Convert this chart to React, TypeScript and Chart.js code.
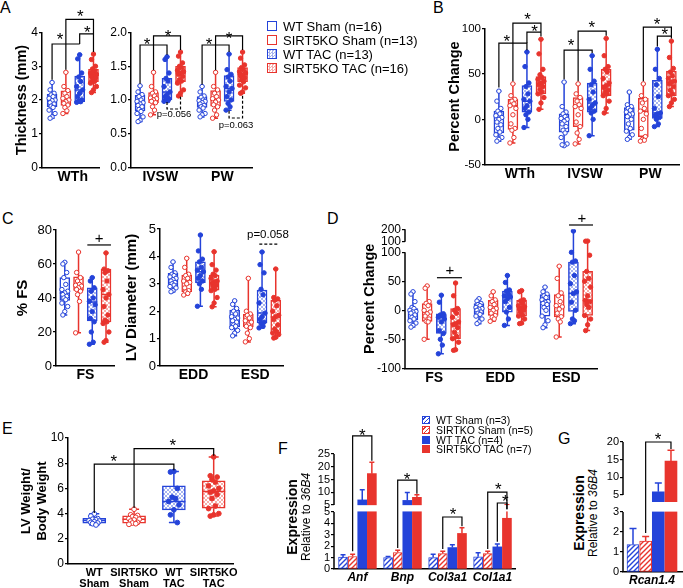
import React, { useEffect, useRef } from 'react';
import { Chart, registerables } from 'chart.js';

Chart.register(...registerables);

const FONT = '"Liberation Sans", Arial, Helvetica, sans-serif';
Chart.defaults.font.family = FONT;
Chart.defaults.color = '#000';

const BLUE = '#2443d9';
const RED = '#e8342d';

// ================= DATA =================
// Group order everywhere: WT Sham, SIRT5KO Sham, WT TAC, SIRT5KO TAC
// Box statistics: [min, Q1, median, Q3, max]

// ---- Panel A: wall thickness (mm)
const A_WTH_STATS = [
  [1.46, 1.8, 2.0, 2.17, 2.52],
  [1.6, 1.84, 2.05, 2.27, 2.82],
  [1.93, 1.95, 2.3, 2.71, 3.34],
  [2.22, 2.54, 2.74, 2.91, 3.36],
];
const A_WTH_POINTS = [
  [2.52, 2.3, 2.2, 2.15, 2.1, 2.05, 2.0, 1.98, 1.92, 1.88, 1.82, 1.78, 1.7, 1.6, 1.5, 1.46],
  [2.82, 2.4, 2.28, 2.2, 2.1, 2.05, 2.0, 1.95, 1.9, 1.85, 1.78, 1.68, 1.6],
  [3.34, 3.22, 2.8, 2.68, 2.55, 2.4, 2.3, 2.2, 2.1, 2.0, 1.97, 1.95, 1.93],
  [3.36, 3.2, 3.0, 2.92, 2.85, 2.8, 2.76, 2.74, 2.7, 2.65, 2.6, 2.55, 2.5, 2.4, 2.3, 2.22],
];
const A_IVSW_STATS = [
  [0.68, 0.84, 0.95, 1.07, 1.21],
  [0.78, 0.96, 1.02, 1.11, 1.41],
  [0.98, 1.0, 1.12, 1.32, 1.64],
  [1.06, 1.27, 1.4, 1.5, 1.71],
];
const A_IVSW_POINTS = [
  [1.21, 1.12, 1.08, 1.05, 1.0, 0.98, 0.96, 0.94, 0.92, 0.9, 0.86, 0.83, 0.8, 0.75, 0.7, 0.68],
  [1.41, 1.2, 1.12, 1.1, 1.06, 1.03, 1.02, 1.0, 0.98, 0.96, 0.9, 0.85, 0.78],
  [1.64, 1.6, 1.4, 1.32, 1.28, 1.2, 1.12, 1.08, 1.05, 1.02, 1.0, 0.99, 0.98],
  [1.71, 1.65, 1.55, 1.5, 1.48, 1.44, 1.42, 1.4, 1.38, 1.35, 1.3, 1.28, 1.25, 1.15, 1.1, 1.06],
];
const A_PW_STATS = [
  [0.75, 0.89, 0.98, 1.05, 1.2],
  [0.73, 0.91, 1.0, 1.14, 1.41],
  [0.85, 0.98, 1.17, 1.36, 1.68],
  [1.1, 1.27, 1.38, 1.48, 1.71],
];
const A_PW_POINTS = [
  [1.2, 1.12, 1.06, 1.04, 1.0, 0.99, 0.98, 0.96, 0.94, 0.92, 0.9, 0.88, 0.85, 0.8, 0.78, 0.75],
  [1.41, 1.2, 1.15, 1.1, 1.05, 1.02, 1.0, 0.97, 0.93, 0.9, 0.85, 0.78, 0.73],
  [1.68, 1.45, 1.38, 1.34, 1.28, 1.2, 1.17, 1.12, 1.05, 1.0, 0.95, 0.9, 0.85],
  [1.71, 1.62, 1.52, 1.48, 1.45, 1.42, 1.4, 1.38, 1.36, 1.33, 1.3, 1.27, 1.22, 1.18, 1.12, 1.1],
];

// ---- Panel B: percent change of thickness
const B_WTH_STATS = [
  [-24, -15, 2, 9, 31], [-26, -11, 15, 22, 39], [-9, 8, 20, 37, 74], [11, 28, 40, 47, 88],
];
const B_WTH_POINTS = [
  [31, 20, 12, 9, 6, 4, 2, 0, -3, -6, -10, -14, -17, -20, -22, -24],
  [39, 26, 22, 20, 17, 15, 12, 5, -5, -10, -12, -20, -26],
  [74, 58, 40, 36, 28, 22, 20, 15, 12, 8, 5, 0, -9],
  [88, 72, 55, 49, 46, 44, 42, 40, 38, 36, 33, 30, 28, 24, 18, 11],
];
const B_IVSW_STATS = [
  [-29, -14, 0, 6, 41], [-27, -8, 14, 24, 39], [-18, 8, 18, 40, 70], [7, 26, 37, 55, 89],
];
const B_IVSW_POINTS = [
  [41, 14, 8, 6, 3, 1, 0, -2, -5, -8, -12, -15, -20, -27, -29, -28],
  [39, 28, 24, 20, 16, 14, 12, 5, -3, -8, -15, -22, -27],
  [70, 55, 42, 38, 30, 22, 18, 15, 12, 9, 7, 0, -18],
  [89, 70, 58, 55, 52, 45, 40, 37, 35, 32, 30, 28, 26, 20, 12, 7],
];
const B_PW_STATS = [
  [-22, -12, 5, 13, 30], [-24, -19, 9, 23, 39], [-8, 1, 7, 43, 77], [14, 26, 41, 53, 86],
];
const B_PW_POINTS = [
  [30, 16, 14, 12, 10, 8, 6, 5, 3, 0, -5, -10, -13, -17, -20, -22],
  [39, 26, 22, 18, 12, 9, 6, 0, -10, -19, -22, -23, -24],
  [77, 55, 45, 38, 25, 12, 7, 6, 4, 2, 0, -5, -8],
  [86, 68, 56, 52, 48, 45, 42, 41, 39, 36, 32, 28, 26, 22, 18, 14],
];

// ---- Panel C: %FS and LV diameters (mm)
const C_FS_STATS = [
  [30, 38.6, 43, 52, 61], [19.5, 44.5, 47.5, 52.4, 67], [12.8, 26.5, 37.7, 46, 52], [14, 26, 42, 57, 66.5],
];
const C_FS_POINTS = [
  [61, 60, 55, 52, 48, 45, 44, 43, 42, 41, 40, 39, 37, 35, 32, 30],
  [67, 55, 52, 50, 48, 47.5, 47, 46, 45, 44, 42, 38, 19.5],
  [52, 50, 46, 44, 40, 38, 36, 32, 28, 26, 20, 14, 12.8],
  [66.5, 57, 56, 55, 50, 45, 42, 40, 35, 30, 27, 26, 25, 20, 15, 14],
];
const C_EDD_STATS = [
  [2.71, 2.89, 3.15, 3.38, 3.8], [2.59, 2.71, 3.1, 3.32, 3.93], [2.18, 3.04, 3.44, 3.8, 4.78], [2.16, 2.77, 3.07, 3.32, 4.17],
];
const C_EDD_POINTS = [
  [3.8, 3.6, 3.4, 3.35, 3.3, 3.25, 3.2, 3.15, 3.1, 3.05, 3.0, 2.95, 2.9, 2.85, 2.75, 2.71],
  [3.93, 3.6, 3.35, 3.3, 3.2, 3.1, 3.05, 3.0, 2.85, 2.75, 2.7, 2.65, 2.59],
  [4.78, 4.2, 3.9, 3.8, 3.6, 3.5, 3.44, 3.3, 3.2, 3.1, 3.0, 2.8, 2.18],
  [4.17, 3.7, 3.5, 3.35, 3.3, 3.2, 3.1, 3.07, 3.0, 2.95, 2.9, 2.8, 2.75, 2.5, 2.3, 2.16],
];
const C_ESD_STATS = [
  [1.1, 1.43, 1.73, 2.04, 2.38], [0.88, 1.43, 1.65, 1.89, 3.2], [1.39, 1.57, 1.93, 2.77, 4.16], [1.02, 1.2, 1.79, 2.41, 3.54],
];
const C_ESD_POINTS = [
  [2.38, 2.25, 2.1, 2.0, 1.9, 1.8, 1.75, 1.7, 1.65, 1.6, 1.5, 1.45, 1.4, 1.3, 1.2, 1.1],
  [3.2, 2.0, 1.9, 1.85, 1.75, 1.65, 1.6, 1.5, 1.45, 1.4, 1.2, 1.0, 0.88],
  [4.16, 3.7, 3.4, 2.8, 2.6, 2.3, 1.93, 1.8, 1.7, 1.6, 1.55, 1.45, 1.39],
  [3.54, 2.5, 2.45, 2.4, 2.2, 2.0, 1.85, 1.8, 1.7, 1.5, 1.35, 1.25, 1.2, 1.15, 1.05, 1.02],
];

// ---- Panel D: percent change of FS / EDD / ESD
const D_FS_STATS = [
  [-29, -16, -3, 3, 32], [-50, -19, -3, 11.5, 42], [-75, -40, -10, -6, 26], [-69, -49, -23, 3, 47],
];
const D_FS_POINTS = [
  [32, 28, 15, 5, 3, 0, -2, -3, -5, -8, -12, -15, -18, -22, -26, -29],
  [42, 38, 15, 12, 8, 0, -3, -6, -10, -15, -19, -20, -50],
  [26, 14, -6, -8, -10, -12, -15, -20, -35, -40, -50, -60, -75],
  [47, 25, 3, 0, -5, -12, -20, -23, -25, -30, -38, -45, -49, -55, -68, -69],
];
const D_EDD_STATS = [
  [-23, -7, 3, 11.5, 20], [-19, -9, 3, 17, 32], [-26, -3, 23, 33, 60], [-23, -10, 6, 17, 34],
];
const D_EDD_POINTS = [
  [20, 16, 12, 10, 8, 5, 3, 2, 0, -3, -5, -7, -10, -15, -20, -23],
  [32, 25, 18, 15, 10, 5, 3, 0, -5, -9, -12, -15, -19],
  [60, 48, 35, 33, 28, 25, 23, 20, 15, 5, -3, -15, -26],
  [34, 32, 18, 16, 12, 8, 6, 4, 2, 0, -3, -8, -10, -15, -22, -23],
];
const D_ESD_STATS = [
  [-30, -10, 14, 27, 40], [-46, -11.5, 6, 27, 76], [-23, -2, 29, 83, 186], [-35, -9, 17, 67, 105],
];
const D_ESD_POINTS = [
  [40, 32, 28, 25, 22, 18, 15, 14, 12, 10, 5, 0, -10, -18, -25, -30],
  [76, 55, 30, 25, 15, 8, 6, 2, -5, -11, -15, -20, -46],
  [186, 100, 85, 83, 60, 46, 32, 29, 14, 0, -15, -18, -23],
  [105, 104, 95, 67, 55, 50, 40, 25, 17, 15, 10, 5, -9, -15, -25, -35],
];
const D_TICKS_LOWER = [-100, -50, 0, 50, 100];
const D_TICKS_UPPER = [100, 200];

// ---- Panel E: LV weight / body weight
const E_STATS = [
  [3.1, 3.24, 3.45, 3.63, 3.98], [3.15, 3.24, 3.55, 3.82, 4.35], [3.29, 4.3, 4.96, 6.2, 7.35], [3.8, 4.43, 5.76, 6.6, 8.5],
];
const E_POINTS = [
  [3.98, 3.8, 3.6, 3.55, 3.5, 3.45, 3.4, 3.35, 3.3, 3.25, 3.2, 3.1],
  [4.35, 3.9, 3.85, 3.75, 3.7, 3.6, 3.55, 3.5, 3.4, 3.3, 3.25, 3.2, 3.15],
  [7.35, 7.3, 6.0, 5.3, 5.2, 4.96, 4.7, 4.3, 3.9, 3.29],
  [8.5, 7.0, 6.9, 6.7, 6.5, 6.2, 6.0, 5.8, 5.7, 5.5, 5.2, 4.6, 4.4, 4.0, 3.9, 3.8],
];
const E_LABELS = [['WT', 'Sham'], ['SIRT5KO', 'Sham'], ['WT', 'TAC'], ['SIRT5KO', 'TAC']];

// ---- Panel F: gene expression relative to 36B4 (mean, SEM)
const F_GENES = ['Anf', 'Bnp', 'Col3a1', 'Col1a1'];
const F_WT_SHAM = [1.05, 1.0, 1.0, 1.07];
const F_KO_SHAM = [1.1, 1.45, 1.36, 1.36];
const F_WT_TAC = [7.0, 6.8, 1.88, 1.94];
const F_KO_TAC = [17.3, 8.0, 3.12, 4.45];
const F_WT_SHAM_SEM = [0.2, 0.1, 0.3, 0.35];
const F_KO_SHAM_SEM = [0.2, 0.2, 0.2, 0.2];
const F_WT_TAC_SEM = [4.0, 3.1, 0.25, 0.25];
const F_KO_TAC_SEM = [4.5, 1.0, 0.5, 0.65];
const F_TICKS_LOWER = [0, 1, 2, 3, 4, 5];
const F_TICKS_UPPER = [5, 10, 15, 20, 25];

// ---- Panel G: Rcan1.4
const G_GENE = ['Rcan1.4'];
const G_MEAN = [1.37, 1.55, 5.9, 14.6];
const G_SEM = [0.8, 0.22, 2.5, 3.1];
const G_TICKS_LOWER = [0, 1, 2, 3];
const G_TICKS_UPPER = [5, 10, 15, 20];

const LEGEND_A = ['WT Sham (n=16)', 'SIRT5KO Sham (n=13)', 'WT TAC (n=13)', 'SIRT5KO TAC (n=16)'];
const LEGEND_F = ['WT Sham (n=3)', 'SIRTKO Sham (n=5)', 'WT TAC (n=4)', 'SIRT5KO TAC (n=7)'];

// ================= HELPERS =================
const KINDS = (n: number) => Array.from({ length: n * 4 }, (_, i) => i % 4);
const COLS = [BLUE, RED, BLUE, RED];

function breakMap(lowTop: number, upBase: number, gap: number, k: number) {
  const up = (v: number) => lowTop + gap + (v - upBase) * k;
  const tf = (v: number) => (v <= lowTop ? v : up(v));
  return { up, tf };
}
const D_MAP = breakMap(100, 100, 18.3, 0.2138);
const F_MAP = breakMap(5, 5, 0.614, 0.2237);
const G_MAP = breakMap(3, 5, 0.85, 0.1767);

function checker(ctx: CanvasRenderingContext2D, color: string) {
  const c = document.createElement('canvas');
  c.width = 4; c.height = 4;
  const g = c.getContext('2d')!;
  g.fillStyle = '#ffffff'; g.fillRect(0, 0, 4, 4);
  g.globalAlpha = 0.4; g.fillStyle = color;
  g.fillRect(0, 0, 2, 2); g.fillRect(2, 2, 2, 2);
  return ctx.createPattern(c, 'repeat');
}
function hatch(ctx: CanvasRenderingContext2D, color: string) {
  const s = 5;
  const c = document.createElement('canvas');
  c.width = s; c.height = s;
  const g = c.getContext('2d')!;
  g.fillStyle = '#ffffff'; g.fillRect(0, 0, s, s);
  g.strokeStyle = color; g.lineWidth = 1.4;
  g.beginPath();
  g.moveTo(0, s); g.lineTo(s, 0);
  g.moveTo(-1, 1); g.lineTo(1, -1);
  g.moveTo(s - 1, s + 1); g.lineTo(s + 1, s - 1);
  g.stroke();
  return ctx.createPattern(c, 'repeat');
}

function drawAnnotations(chart: any, p: any) {
  const xs = chart.scales.x, ys = chart.scales.y, c = chart.ctx;
  c.save();
  c.strokeStyle = '#000';
  c.lineWidth = 1.2;
  (p.brackets || []).forEach((b: any) => {
    const x1 = xs.getPixelForValue(b.x1), x2 = xs.getPixelForValue(b.x2), y = ys.getPixelForValue(b.y);
    c.setLineDash(b.dash ? [3, 2] : []);
    c.beginPath();
    c.moveTo(x1, ys.getPixelForValue(b.l1));
    c.lineTo(x1, y);
    c.lineTo(x2, y);
    c.lineTo(x2, ys.getPixelForValue(b.l2));
    c.stroke();
  });
  c.setLineDash([]);
  (p.marks || []).forEach((m: any) => {
    const size = m.size || 17;
    c.font = `${size}px ${FONT}`;
    c.fillStyle = '#000';
    c.textAlign = 'center';
    c.textBaseline = 'middle';
    const dy = m.t === '*' ? size * 0.22 : 0;
    c.fillText(m.t, xs.getPixelForValue(m.x), ys.getPixelForValue(m.y) + dy);
  });
  if (p.segs) {
    c.lineWidth = 1.5;
    c.strokeStyle = '#000';
    const x = chart.chartArea.left;
    p.segs.forEach((s: number[]) => {
      c.beginPath();
      c.moveTo(x, ys.getPixelForValue(s[0]));
      c.lineTo(x, ys.getPixelForValue(s[1]));
      c.stroke();
    });
  }
  c.restore();
}

function scalesFor(p: any, ml: number, mb: number) {
  return {
    x: {
      type: 'linear', min: p.xMin, max: p.xMax, offset: false,
      grid: { display: false, drawTicks: false, offset: false },
      border: { display: true, color: '#000', width: 1.5 },
      afterBuildTicks: (s: any) => { s.ticks = p.centers.map((v: number) => ({ value: v })); },
      afterFit: (s: any) => { s.height = mb; },
      ticks: {
        autoSkip: false, maxRotation: 0, minRotation: 0, padding: p.xPad ?? 1, color: '#000',
        font: p.xFont,
        callback: (v: number) => p.groupLabels[p.centers.indexOf(v)],
      },
    },
    y: {
      type: 'linear', min: p.yMin, max: p.yMax,
      afterBuildTicks: p.yTicks ? (s: any) => { s.ticks = p.yTicks.map((v: number) => ({ value: v })); } : undefined,
      afterFit: (s: any) => { s.width = ml; },
      ticks: {
        stepSize: p.yStep, color: '#000', padding: 1, autoSkip: false,
        font: { family: FONT, size: p.tickSize },
        callback: (v: number) => (p.yLabel ? p.yLabel(v) : String(v)),
      },
      grid: { display: true, drawOnChartArea: false, drawTicks: true, tickLength: 3, color: '#000', lineWidth: 1.2 },
      border: { display: !p.segs, color: '#000', width: 1.5 },
      title: p.yTitle
        ? { display: true, text: p.yTitle, color: '#000', padding: 0, font: { family: FONT, size: p.yTitleSize, weight: 'bold' } }
        : { display: false },
    },
  };
}

function margins(p: any) {
  const [cl, ct, cw, ch] = p.cv;
  const [pl, pt, pr, pb] = p.plot;
  return { ml: pl - cl, mt: pt - ct, mr: cl + cw - pr, mb: ct + ch - pb };
}

function makeBoxChart(p: any) {
  return (ctx: CanvasRenderingContext2D) => {
    const tf = p.tf || ((v: number) => v);
    const fills = ['#ffffff', '#ffffff', checker(ctx, BLUE), checker(ctx, RED)];
    const { ml, mt, mr, mb } = margins(p);
    const pxPer = (p.plot[2] - p.plot[0]) / (p.xMax - p.xMin);
    const jit = [0, -1, 1, -0.5, 0.5, -1.5, 1.5];
    const datasets: any[] = [
      {
        type: 'bar', order: 2,
        data: p.stats.map((s: number[], i: number) => ({ x: p.slots[i], y: [tf(s[1]), tf(s[3])] })),
        backgroundColor: p.kinds.map((k: number) => fills[k]),
        borderColor: p.kinds.map((k: number) => COLS[k]),
        borderWidth: 1.5, borderSkipped: false, barThickness: p.boxW,
      },
    ];
    p.pts.forEach((arr: number[], i: number) => {
      const k = p.kinds[i];
      datasets.push({
        type: 'scatter', order: 1,
        data: arr.map((v, j) => ({ x: p.slots[i] + (jit[j % jit.length] * p.jit) / pxPer, y: tf(v) })),
        pointRadius: p.ptR, pointHoverRadius: p.ptR, pointBorderWidth: 1,
        pointBackgroundColor: k < 2 ? '#ffffff' : COLS[k], pointBorderColor: COLS[k],
      });
    });
    return {
      type: 'bar',
      data: { datasets },
      options: {
        animation: false, responsive: false, events: [],
        layout: { padding: { left: 0, top: mt, right: mr, bottom: 0 } },
        plugins: { legend: { display: false }, tooltip: { enabled: false } },
        scales: scalesFor(p, ml, mb),
      },
      plugins: [
        {
          id: 'boxdeco',
          afterDatasetDraw(chart: any, args: any) {
            if (args.meta.type !== 'bar') return;
            const xs = chart.scales.x, ys = chart.scales.y, c = chart.ctx;
            c.save();
            c.lineWidth = 1.5;
            p.stats.forEach((s: number[], i: number) => {
              const x = xs.getPixelForValue(p.slots[i]);
              const Y = s.map((v) => ys.getPixelForValue(tf(v)));
              c.strokeStyle = COLS[p.kinds[i]];
              c.beginPath();
              c.moveTo(x, Y[3]); c.lineTo(x, Y[4]);
              c.moveTo(x, Y[1]); c.lineTo(x, Y[0]);
              c.moveTo(x - p.capW, Y[4]); c.lineTo(x + p.capW, Y[4]);
              c.moveTo(x - p.capW, Y[0]); c.lineTo(x + p.capW, Y[0]);
              c.moveTo(x - p.boxW / 2, Y[2]); c.lineTo(x + p.boxW / 2, Y[2]);
              c.stroke();
            });
            c.restore();
          },
          afterDraw(chart: any) { drawAnnotations(chart, p); },
        },
      ],
    };
  };
}

function makeBarChart(p: any) {
  return (ctx: CanvasRenderingContext2D) => {
    const fills = [hatch(ctx, BLUE), hatch(ctx, RED), BLUE, RED];
    const { ml, mt, mr, mb } = margins(p);
    return {
      type: 'bar',
      data: {
        datasets: [
          {
            data: p.means.map((m: number, i: number) => ({ x: p.slots[i], y: p.tf(m) })),
            backgroundColor: p.kinds.map((k: number) => fills[k]),
            borderColor: p.kinds.map((k: number) => COLS[k]),
            borderWidth: p.kinds.map((k: number) => (k < 2 ? 1 : 0)),
            borderSkipped: false, barThickness: p.barW,
          },
        ],
      },
      options: {
        animation: false, responsive: false, events: [],
        layout: { padding: { left: 0, top: mt, right: mr, bottom: 0 } },
        plugins: { legend: { display: false }, tooltip: { enabled: false } },
        scales: scalesFor(p, ml, mb),
      },
      plugins: [
        {
          id: 'errdeco',
          afterDatasetsDraw(chart: any) {
            const xs = chart.scales.x, ys = chart.scales.y, c = chart.ctx;
            const a = chart.chartArea;
            c.save();
            c.lineWidth = 1.5;
            p.means.forEach((m: number, i: number) => {
              const x = xs.getPixelForValue(p.slots[i]);
              const y0 = ys.getPixelForValue(p.tf(m));
              const y1 = ys.getPixelForValue(p.tf(m + p.sems[i]));
              c.strokeStyle = COLS[p.kinds[i]];
              c.beginPath();
              c.moveTo(x, y0); c.lineTo(x, y1);
              c.moveTo(x - p.capW, y1); c.lineTo(x + p.capW, y1);
              c.stroke();
            });
            const b0 = ys.getPixelForValue(p.band[0]), b1 = ys.getPixelForValue(p.band[1]);
            c.fillStyle = '#ffffff';
            c.fillRect(a.left + 1, b1, a.right - a.left, b0 - b1);
            c.restore();
          },
          afterDraw(chart: any) { drawAnnotations(chart, p); },
        },
      ],
    };
  };
}

// ================= PANEL CONFIGS =================
const XFONT = { family: FONT, size: 14, weight: 'bold' };
const f1 = (v: number) => v.toFixed(1);

const CFG_A1 = {
  cv: [13, 4, 92, 190], plot: [42, 32.5, 99, 167.5],
  yMin: 0, yMax: 4, yStep: 1, tickSize: 12, yTitle: 'Thickness (mm)', yTitleSize: 14.5,
  xMin: -0.73, xMax: 3.4, slots: [0, 1, 2, 3], centers: [1.5], groupLabels: ['WTh'], xFont: XFONT,
  stats: A_WTH_STATS, pts: A_WTH_POINTS, kinds: KINDS(1), boxW: 10, capW: 2.5, ptR: 2.2, jit: 2,
  brackets: [
    { x1: 0, x2: 2, y: 3.66, l1: 2.6, l2: 3.66 },
    { x1: 2, x2: 3, y: 3.96, l1: 3.66, l2: 3.96 },
    { x1: 1, x2: 3, y: 4.39, l1: 2.9, l2: 3.42 },
  ],
  marks: [
    { x: 0.58, y: 3.87, t: '*' }, { x: 2.56, y: 4.1, t: '*' }, { x: 2.05, y: 4.55, t: '*' },
  ],
};

const CFG_A2 = {
  cv: [103, 4, 155, 190], plot: [131, 32.5, 252, 167.5],
  yMin: 0, yMax: 2, yStep: 0.5, tickSize: 12, yLabel: f1,
  xMin: -0.67, xMax: 8.3, slots: [0, 1, 2, 3, 4.6, 5.6, 6.6, 7.6], centers: [1.5, 6.1], groupLabels: ['IVSW', 'PW'], xFont: XFONT,
  stats: [...A_IVSW_STATS, ...A_PW_STATS], pts: [...A_IVSW_POINTS, ...A_PW_POINTS], kinds: KINDS(2),
  boxW: 10, capW: 2.5, ptR: 2.2, jit: 2,
  brackets: [
    { x1: 0, x2: 2, y: 1.815, l1: 1.24, l2: 1.67 },
    { x1: 1, x2: 3, y: 1.95, l1: 1.44, l2: 1.74 },
    { x1: 2, x2: 3, y: 0.867, l1: 0.97, l2: 1.05, dash: true },
    { x1: 4.6, x2: 6.6, y: 1.815, l1: 1.23, l2: 1.71 },
    { x1: 5.6, x2: 7.6, y: 1.95, l1: 1.44, l2: 1.74 },
    { x1: 6.6, x2: 7.6, y: 0.733, l1: 0.84, l2: 1.09, dash: true },
  ],
  marks: [
    { x: 0.52, y: 1.87, t: '*' }, { x: 2.07, y: 1.99, t: '*' },
    { x: 5.11, y: 1.87, t: '*' }, { x: 6.59, y: 1.96, t: '*' },
    { x: 2.52, y: 0.78, t: 'p=0.056', size: 9.5 }, { x: 7.11, y: 0.63, t: 'p=0.063', size: 9.5 },
  ],
};

const CFG_B = {
  cv: [446, 4, 237, 190], plot: [485, 28.4, 682, 164.8],
  yMin: -50, yMax: 100, yStep: 50, tickSize: 11.5, yTitle: 'Percent Change', yTitleSize: 14.5,
  xMin: -0.99, xMax: 12.9, slots: [0, 1, 2, 3, 4.65, 5.65, 6.65, 7.65, 9.3, 10.3, 11.3, 12.3],
  centers: [1.5, 6.15, 10.8], groupLabels: ['WTh', 'IVSW', 'PW'], xFont: XFONT,
  stats: [...B_WTH_STATS, ...B_IVSW_STATS, ...B_PW_STATS], pts: [...B_WTH_POINTS, ...B_IVSW_POINTS, ...B_PW_POINTS],
  kinds: KINDS(3), boxW: 10, capW: 2.5, ptR: 2.2, jit: 2,
  brackets: [
    { x1: 0, x2: 2, y: 83.9, l1: 35, l2: 76 },
    { x1: 1, x2: 3, y: 105.9, l1: 42, l2: 91 },
    { x1: 2, x2: 3, y: 96, l1: 83.9, l2: 96 },
    { x1: 4.65, x2: 6.65, y: 76.2, l1: 44, l2: 73 },
    { x1: 5.65, x2: 7.65, y: 97.1, l1: 42, l2: 92 },
    { x1: 10.3, x2: 12.3, y: 101.5, l1: 42, l2: 89 },
    { x1: 11.3, x2: 12.3, y: 91.6, l1: 80, l2: 91.6 },
  ],
  marks: [
    { x: 0.56, y: 88.3, t: '*' }, { x: 2.04, y: 112.5, t: '*' }, { x: 2.54, y: 99.3, t: '*' },
    { x: 5.14, y: 83.9, t: '*' }, { x: 6.62, y: 103.7, t: '*' },
    { x: 11.27, y: 108, t: '*' }, { x: 11.83, y: 96, t: '*' },
  ],
};

const CFG_C1 = {
  cv: [14, 200, 104, 190], plot: [56, 230, 117, 366],
  yMin: 0, yMax: 80, yStep: 20, tickSize: 13, yTitle: '% FS', yTitleSize: 15,
  xMin: -0.64, xMax: 3.64, slots: [0, 1, 2, 3], centers: [1.5], groupLabels: ['FS'], xFont: XFONT,
  stats: C_FS_STATS, pts: C_FS_POINTS, kinds: KINDS(1), boxW: 10, capW: 2.5, ptR: 2.2, jit: 2,
  brackets: [{ x1: 1.64, x2: 3.36, y: 71.2, l1: 71.2, l2: 71.2 }],
  marks: [{ x: 2.5, y: 74.7, t: '+', size: 15 }],
};

const CFG_C2 = {
  cv: [123, 200, 175, 190], plot: [160, 229, 283, 366],
  yMin: 0, yMax: 5, yStep: 1, tickSize: 13, yTitle: 'LV Diameter (mm)', yTitleSize: 15,
  xMin: -0.95, xMax: 8.03, slots: [0, 1, 2, 3, 4.5, 5.5, 6.5, 7.5], centers: [1.5, 6], groupLabels: ['EDD', 'ESD'], xFont: XFONT,
  stats: [...C_EDD_STATS, ...C_ESD_STATS], pts: [...C_EDD_POINTS, ...C_ESD_POINTS], kinds: KINDS(2),
  boxW: 10, capW: 2.5, ptR: 2.2, jit: 2,
  brackets: [{ x1: 6.3, x2: 7.7, y: 4.45, l1: 4.45, l2: 4.45, dash: true }],
  marks: [{ x: 6.93, y: 4.8, t: 'p=0.058', size: 11.5 }],
};

const D_TICKS = [...D_TICKS_LOWER, ...D_TICKS_UPPER.map(D_MAP.up)];
const D_LABELS = [...D_TICKS_LOWER, ...D_TICKS_UPPER].map(String);
const CFG_D = {
  cv: [361, 200, 240, 190], plot: [405, 229.3, 597, 368.3],
  yMin: -100, yMax: D_MAP.up(200), yTicks: D_TICKS, yLabel: (v: number) => D_LABELS[D_TICKS.indexOf(v)],
  tickSize: 12, yTitle: 'Percent Change', yTitleSize: 14.5, tf: D_MAP.tf,
  segs: [[-100, 100], [D_MAP.up(100), D_MAP.up(200)]],
  xMin: -0.56, xMax: 12.96, slots: [0, 1, 2, 3, 4.65, 5.65, 6.65, 7.65, 9.3, 10.3, 11.3, 12.3],
  centers: [1.5, 6.15, 10.8], groupLabels: ['FS', 'EDD', 'ESD'], xFont: XFONT,
  stats: [...D_FS_STATS, ...D_EDD_STATS, ...D_ESD_STATS], pts: [...D_FS_POINTS, ...D_EDD_POINTS, ...D_ESD_POINTS],
  kinds: KINDS(3), boxW: 10, capW: 2.5, ptR: 2.2, jit: 2,
  brackets: [
    { x1: 1.69, x2: 3.45, y: 56.2, l1: 56.2, l2: 56.2 },
    { x1: 10.99, x2: 12.68, y: 147.1, l1: 147.1, l2: 147.1 },
  ],
  marks: [{ x: 2.6, y: 67.8, t: '+', size: 15 }, { x: 11.9, y: 157.5, t: '+', size: 15 }],
};

const CFG_E = {
  cv: [19, 405, 222, 183], plot: [68, 438, 237, 564],
  yMin: 0, yMax: 10, yStep: 2, tickSize: 12, yTitle: ['LV Weight/', 'Body Weight'], yTitleSize: 13,
  xMin: -0.66, xMax: 3.49, slots: [0, 1, 2, 3], centers: [0, 1, 2, 3], groupLabels: E_LABELS,
  xFont: { family: FONT, size: 11, weight: 'bold', lineHeight: 1.0 }, xPad: 3,
  stats: E_STATS, pts: E_POINTS, kinds: KINDS(1), boxW: 23, capW: 5, ptR: 2.4, jit: 3.5,
  brackets: [
    { x1: 0, x2: 2, y: 7.93, l1: 4.05, l2: 7.45 },
    { x1: 1, x2: 3, y: 9.15, l1: 4.45, l2: 8.6 },
  ],
  marks: [{ x: 0.49, y: 8.33, t: '*' }, { x: 1.97, y: 9.6, t: '*' }],
};

const interleave = (a: number[], b: number[], c: number[], d: number[]) =>
  a.flatMap((_, i) => [a[i], b[i], c[i], d[i]]);
const F_TICKS = [...F_TICKS_LOWER, ...F_TICKS_UPPER.map(F_MAP.up)];
const F_LABELS = [...F_TICKS_LOWER, ...F_TICKS_UPPER].map(String);
const CFG_F = {
  cv: [300, 425, 217, 163], plot: [334, 454, 515, 569],
  yMin: 0, yMax: F_MAP.up(25), yTicks: F_TICKS, yLabel: (v: number) => F_LABELS[F_TICKS.indexOf(v)],
  tickSize: 11, tf: F_MAP.tf, segs: [[0, 5], [F_MAP.up(5), F_MAP.up(25)]], band: [5.05, 5.6],
  xMin: -0.94, xMax: 17.9,
  slots: [0, 1, 2, 3, 4.69, 5.69, 6.69, 7.69, 9.38, 10.38, 11.38, 12.38, 14.06, 15.06, 16.06, 17.06],
  centers: [1.5, 6.19, 10.88, 15.56], groupLabels: F_GENES,
  xFont: { family: FONT, size: 12, weight: 'bold', style: 'italic' },
  means: interleave(F_WT_SHAM, F_KO_SHAM, F_WT_TAC, F_KO_TAC),
  sems: interleave(F_WT_SHAM_SEM, F_KO_SHAM_SEM, F_WT_TAC_SEM, F_KO_TAC_SEM),
  kinds: KINDS(4), barW: 9, capW: 2.5,
  brackets: [
    { x1: 1, x2: 3, y: 11.67, l1: 1.55, l2: 9.5 },
    { x1: 5.69, x2: 7.69, y: 7.8, l1: 1.85, l2: 6.6 },
    { x1: 10.38, x2: 12.38, y: 4.56, l1: 1.75, l2: 3.75 },
    { x1: 15.06, x2: 17.06, y: 6.75, l1: 1.75, l2: 5.25 },
    { x1: 16.06, x2: 17.06, y: 5.79, l1: 2.4, l2: 5.25 },
  ],
  marks: [
    { x: 2, y: 12.0, t: '*' }, { x: 6.67, y: 8.07, t: '*' }, { x: 11.46, y: 5.0, t: '*' },
    { x: 16.15, y: 7.19, t: '*' }, { x: 16.88, y: 6.14, t: '*' },
  ],
};

const G_TICKS = [...G_TICKS_LOWER, ...G_TICKS_UPPER.map(G_MAP.up)];
const G_LABELS = [...G_TICKS_LOWER, ...G_TICKS_UPPER].map(String);
const CFG_G = {
  cv: [600, 425, 83, 163], plot: [623, 442, 683, 572],
  yMin: 0, yMax: G_MAP.up(20), yTicks: G_TICKS, yLabel: (v: number) => G_LABELS[G_TICKS.indexOf(v)],
  tickSize: 11, tf: G_MAP.tf, segs: [[0, 3], [G_MAP.up(5), G_MAP.up(20)]], band: [3.02, 3.5],
  xMin: -0.79, xMax: 3.95, slots: [0, 1, 2, 3], centers: [1.5], groupLabels: G_GENE,
  xFont: { family: FONT, size: 12, weight: 'bold', style: 'italic' },
  means: G_MEAN, sems: G_SEM, kinds: KINDS(1), barW: 12, capW: 3.5,
  brackets: [{ x1: 1, x2: 3, y: 6.5, l1: 1.95, l2: 6.15 }],
  marks: [{ x: 1.97, y: 6.75, t: '*' }],
};

const CHARTS = [
  { cv: CFG_A1.cv, build: makeBoxChart(CFG_A1) },
  { cv: CFG_A2.cv, build: makeBoxChart(CFG_A2) },
  { cv: CFG_B.cv, build: makeBoxChart(CFG_B) },
  { cv: CFG_C1.cv, build: makeBoxChart(CFG_C1) },
  { cv: CFG_C2.cv, build: makeBoxChart(CFG_C2) },
  { cv: CFG_D.cv, build: makeBoxChart(CFG_D) },
  { cv: CFG_E.cv, build: makeBoxChart(CFG_E) },
  { cv: CFG_F.cv, build: makeBarChart(CFG_F) },
  { cv: CFG_G.cv, build: makeBarChart(CFG_G) },
];

// ================= COMPONENTS =================
function ChartCanvas({ cv, build }: { cv: number[]; build: (ctx: CanvasRenderingContext2D) => any }) {
  const ref = useRef<HTMLCanvasElement>(null);
  useEffect(() => {
    const canvas = ref.current!;
    const ctx = canvas.getContext('2d')!;
    const chart = new Chart(ctx, build(ctx));
    return () => chart.destroy();
  }, []);
  return (
    <canvas
      ref={ref}
      width={cv[2]}
      height={cv[3]}
      style={{ position: 'absolute', left: cv[0], top: cv[1], width: cv[2], height: cv[3] }}
    />
  );
}

const abs = (left: number, top: number, extra: any = {}) => ({ position: 'absolute', left, top, ...extra }) as any;

function PanelLetter({ t, x, y }: { t: string; x: number; y: number }) {
  return <div style={abs(x, y, { fontSize: 16, lineHeight: '16px', color: '#000' })}>{t}</div>;
}

const checkerBg = (c: string) => `repeating-conic-gradient(${c} 0% 25%, #ffffff 0% 50%) 0 0 / 3px 3px`;
const hatchBg = (c: string) => `repeating-linear-gradient(-45deg, ${c} 0px, ${c} 1.2px, #ffffff 1.2px, #ffffff 3px)`;

function LegendA() {
  const bgs = ['#ffffff', '#ffffff', checkerBg('rgba(36,67,217,0.4)'), checkerBg('rgba(232,52,45,0.4)')];
  return (
    <>
      {LEGEND_A.map((t, i) => (
        <React.Fragment key={i}>
          <div style={abs(267, 21 + i * 14, { width: 10, height: 10, boxSizing: 'border-box', border: `1.5px solid ${COLS[i]}`, background: bgs[i] })} />
          <div style={abs(283, 19.5 + i * 14, { fontSize: 13, lineHeight: '13px', whiteSpace: 'nowrap', color: '#000' })}>{t}</div>
        </React.Fragment>
      ))}
    </>
  );
}

function LegendF() {
  const bgs = [hatchBg(BLUE), hatchBg(RED), BLUE, RED];
  return (
    <>
      {LEGEND_F.map((t, i) => (
        <React.Fragment key={i}>
          <div style={abs(422, 416 + i * 9.8, { width: 8, height: 8, boxSizing: 'border-box', border: `1px solid ${COLS[i]}`, background: bgs[i] })} />
          <div style={abs(436, 415 + i * 9.8, { fontSize: 10.5, lineHeight: '10.5px', whiteSpace: 'nowrap', color: '#000' })}>{t}</div>
        </React.Fragment>
      ))}
    </>
  );
}

function ExprTitle({ x, y }: { x: number; y: number }) {
  return (
    <div
      style={abs(x, y, {
        transform: 'translate(-50%, -50%) rotate(-90deg)',
        whiteSpace: 'nowrap', textAlign: 'center', color: '#000', lineHeight: '14px',
      })}
    >
      <div style={{ fontSize: 14, fontWeight: 'bold' }}>Expression</div>
      <div style={{ fontSize: 12 }}>
        Relative to <i>36B4</i>
      </div>
    </div>
  );
}

export default function App() {
  return (
    <div style={abs(0, 0, { width: 683, height: 588, background: '#ffffff', overflow: 'hidden', fontFamily: FONT })}>
      {CHARTS.map((c, i) => (
        <ChartCanvas key={i} cv={c.cv} build={c.build} />
      ))}
      <PanelLetter t="A" x={0} y={0} />
      <PanelLetter t="B" x={433} y={0} />
      <PanelLetter t="C" x={2} y={211} />
      <PanelLetter t="D" x={327} y={211} />
      <PanelLetter t="E" x={2} y={421} />
      <PanelLetter t="F" x={278} y={441} />
      <PanelLetter t="G" x={558} y={431} />
      <LegendA />
      <LegendF />
      <ExprTitle x={299} y={517} />
      <ExprTitle x={586} y={513} />
    </div>
  );
}
